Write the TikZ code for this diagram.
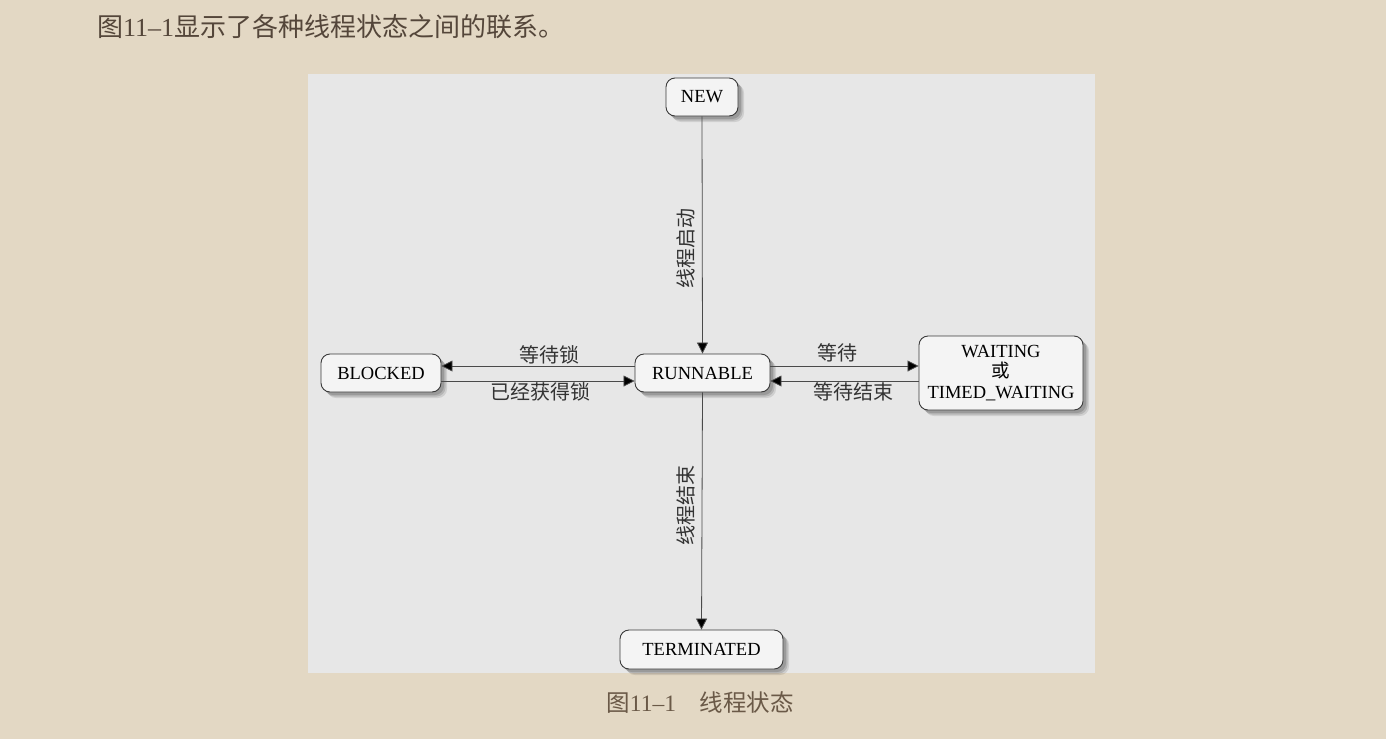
\documentclass[tikz,border=0pt]{standalone}
\usepackage{fontspec}
\setmainfont{Liberation Serif}
\newfontfamily\cjk{Noto Sans CJK SC}
\usetikzlibrary{arrows.meta,shadows}
\definecolor{beige}{HTML}{E3D8C4}
\definecolor{panel}{HTML}{E7E7E7}
\definecolor{boxfill}{HTML}{F4F4F4}
\definecolor{boxline}{HTML}{3A3A3A}
\definecolor{wire}{HTML}{4A4A4A}
\definecolor{toptext}{HTML}{54463A}
\definecolor{captext}{HTML}{6A5947}
\tikzset{
  state/.style={draw=boxline, line width=0.9pt, fill=boxfill, rounded corners=9pt,
    minimum height=38pt, inner sep=0pt, font=\fontsize{18.5}{20.5}\selectfont, align=center,
    general shadow={fill=black, opacity=0.10, shadow xshift=6pt, shadow yshift=-6pt},
    general shadow={fill=black, opacity=0.12, shadow xshift=4.5pt, shadow yshift=-4.5pt},
    general shadow={fill=black, opacity=0.15, shadow xshift=3pt, shadow yshift=-3pt}},
  arr/.style={draw=wire, line width=0.8pt, -{Triangle[length=11pt,width=11pt,fill=black]}},
  lbl/.style={font=\cjk\fontsize{20}{22}\selectfont, inner sep=1pt, text=black!80},
  vlbl/.style={lbl, rotate=90, anchor=south, inner ysep=7pt},
}
\begin{document}
\begin{tikzpicture}[x=1pt,y=-1pt]
\useasboundingbox (0,0) rectangle (1386,739);
\fill[beige] (0,0) rectangle (1386,739);
\fill[panel] (308,74) rectangle (1095,673);
\node[anchor=west, text=toptext, inner sep=0pt] (toptxt) at (97,27)
  {\fontsize{26}{28}\selectfont{\cjk 图}11–1{\cjk 显示了各种线程状态之间的联系。}};
\node[text=captext, inner sep=0pt] (cap) at (700,703)
  {\fontsize{23.5}{26}\selectfont{\cjk 图}11–1{\cjk 　线程状态}};

\node[state, minimum width=72pt] (new) at (702,97) {NEW};
\node[state, minimum width=135pt] (run) at (702.5,373) {RUNNABLE};
\node[state, minimum width=120pt] (blk) at (381,373) {BLOCKED};
\node[state, minimum width=164pt, minimum height=74pt] (wait) at (1001,373) {WAITING\\{\cjk 或}\\TIMED\_WAITING};
\node[state, minimum width=163pt, minimum height=39pt] (term) at (701.5,649.5) {TERMINATED};

\draw[arr] (new.south) -- node[vlbl, pos=0.555] (l1) {线程启动} (run.north);
\draw[arr] (run.south) -- node[vlbl, pos=0.475] (l2) {线程结束} (term.north);

\draw[arr] ([yshift=7pt]run.west) -- node[lbl, anchor=south, pos=0.44] (l3) {等待锁} ([yshift=7pt]blk.east);
\draw[arr] ([yshift=-8pt]blk.east) -- node[lbl, anchor=north, pos=0.515] (l4) {已经获得锁} ([yshift=-8pt]run.west);
\draw[arr] ([yshift=7pt]run.east) -- node[lbl, anchor=south, pos=0.456, yshift=3pt] (l5) {等待} ([yshift=7pt]wait.west);
\draw[arr] ([yshift=-8pt]wait.west) -- node[lbl, anchor=north, pos=0.44] (l6) {等待结束} ([yshift=-8pt]run.east);
\end{tikzpicture}
\end{document}
